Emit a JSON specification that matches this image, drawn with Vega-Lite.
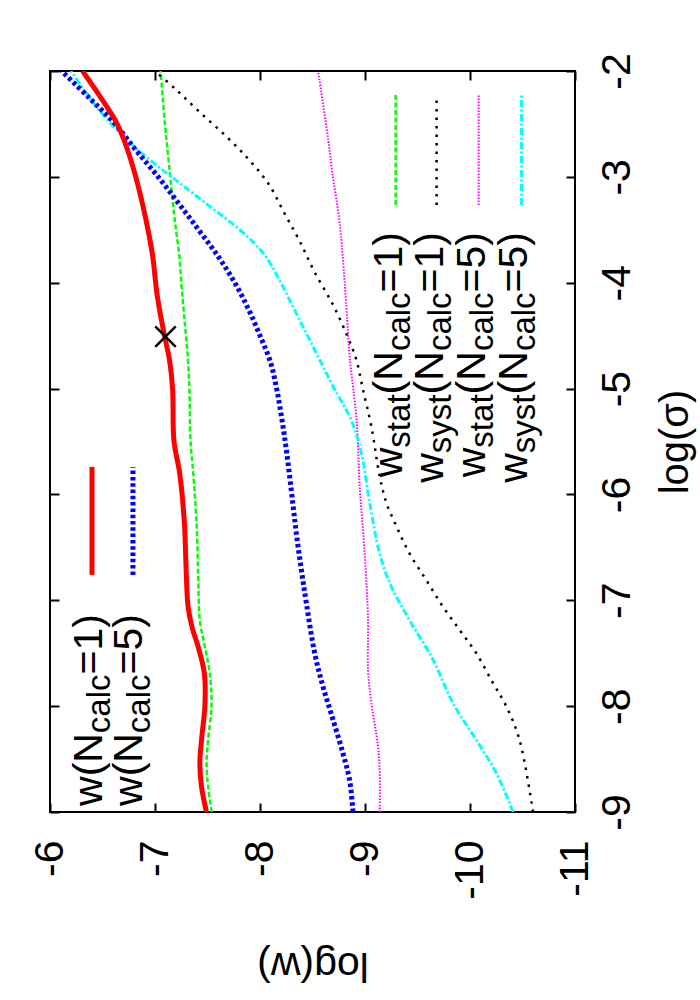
{
  "$schema": "https://vega.github.io/schema/vega-lite/v6.json",
  "width": 525,
  "height": 741,
  "autosize": {"type": "none"},
  "padding": {"left": 50, "top": 71, "right": 125, "bottom": 188},
  "background": "white",
  "config": {
    "view": {"stroke": "black", "strokeWidth": 2},
    "font": "Liberation Sans",
    "axis": {"domain": false, "grid": false, "tickColor": "black", "tickWidth": 2, "labelColor": "black", "titleColor": "black", "labelFont": "Liberation Sans", "titleFont": "Liberation Sans", "titleFontWeight": "normal"}
  },
  "datasets": {
    "curves": [
      {"s":"w1","g":"c","ls":-9.0,"lw":-7.49},{"s":"w1","g":"c","ls":-8.76,"lw":-7.443},{"s":"w1","g":"c","ls":-8.54,"lw":-7.427},{"s":"w1","g":"c","ls":-8.32,"lw":-7.443},{"s":"w1","g":"c","ls":-8.0,"lw":-7.475},{"s":"w1","g":"c","ls":-7.69,"lw":-7.47},{"s":"w1","g":"c","ls":-7.44,"lw":-7.411},{"s":"w1","g":"c","ls":-7.25,"lw":-7.352},{"s":"w1","g":"c","ls":-7.06,"lw":-7.315},{"s":"w1","g":"c","ls":-6.75,"lw":-7.298},{"s":"w1","g":"c","ls":-6.27,"lw":-7.28},{"s":"w1","g":"c","ls":-5.8,"lw":-7.235},{"s":"w1","g":"c","ls":-5.49,"lw":-7.18},{"s":"w1","g":"c","ls":-5.01,"lw":-7.168},{"s":"w1","g":"c","ls":-4.73,"lw":-7.138},{"s":"w1","g":"c","ls":-4.45,"lw":-7.08},{"s":"w1","g":"c","ls":-4.1,"lw":-7.018},{"s":"w1","g":"c","ls":-3.75,"lw":-6.978},{"s":"w1","g":"c","ls":-3.41,"lw":-6.915},{"s":"w1","g":"c","ls":-3.03,"lw":-6.825},{"s":"w1","g":"c","ls":-2.72,"lw":-6.73},{"s":"w1","g":"c","ls":-2.49,"lw":-6.635},{"s":"w1","g":"c","ls":-2.24,"lw":-6.476},{"s":"w1","g":"c","ls":-2.0,"lw":-6.31},
      {"s":"stat1","g":"c","ls":-9.0,"lw":-7.54},{"s":"stat1","g":"c","ls":-8.76,"lw":-7.506},{"s":"stat1","g":"c","ls":-8.54,"lw":-7.491},{"s":"stat1","g":"c","ls":-8.32,"lw":-7.506},{"s":"stat1","g":"c","ls":-8.0,"lw":-7.538},{"s":"stat1","g":"c","ls":-7.69,"lw":-7.522},{"s":"stat1","g":"c","ls":-7.44,"lw":-7.475},{"s":"stat1","g":"c","ls":-7.19,"lw":-7.427},{"s":"stat1","g":"c","ls":-6.75,"lw":-7.411},{"s":"stat1","g":"c","ls":-6.27,"lw":-7.396},{"s":"stat1","g":"c","ls":-5.8,"lw":-7.364},{"s":"stat1","g":"c","ls":-5.49,"lw":-7.338},{"s":"stat1","g":"c","ls":-5.01,"lw":-7.328},{"s":"stat1","g":"c","ls":-4.7,"lw":-7.312},{"s":"stat1","g":"c","ls":-4.38,"lw":-7.284},{"s":"stat1","g":"c","ls":-4.07,"lw":-7.256},{"s":"stat1","g":"c","ls":-3.75,"lw":-7.232},{"s":"stat1","g":"c","ls":-3.44,"lw":-7.192},{"s":"stat1","g":"c","ls":-3.13,"lw":-7.158},{"s":"stat1","g":"c","ls":-2.81,"lw":-7.126},{"s":"stat1","g":"c","ls":-2.49,"lw":-7.094},{"s":"stat1","g":"c","ls":-2.0,"lw":-7.053},
      {"s":"w5","g":"c","ls":-9.0,"lw":-8.885},{"s":"w5","g":"c","ls":-8.7,"lw":-8.854},{"s":"w5","g":"c","ls":-8.45,"lw":-8.791},{"s":"w5","g":"c","ls":-8.13,"lw":-8.696},{"s":"w5","g":"c","ls":-7.82,"lw":-8.601},{"s":"w5","g":"c","ls":-7.5,"lw":-8.521},{"s":"w5","g":"c","ls":-7.03,"lw":-8.442},{"s":"w5","g":"c","ls":-6.72,"lw":-8.395},{"s":"w5","g":"c","ls":-6.4,"lw":-8.35},{"s":"w5","g":"c","ls":-6.08,"lw":-8.312},{"s":"w5","g":"c","ls":-5.61,"lw":-8.255},{"s":"w5","g":"c","ls":-5.3,"lw":-8.21},{"s":"w5","g":"c","ls":-5.01,"lw":-8.16},{"s":"w5","g":"c","ls":-4.75,"lw":-8.1},{"s":"w5","g":"c","ls":-4.5,"lw":-8.0},{"s":"w5","g":"c","ls":-4.25,"lw":-7.89},{"s":"w5","g":"c","ls":-4.0,"lw":-7.76},{"s":"w5","g":"c","ls":-3.75,"lw":-7.6},{"s":"w5","g":"c","ls":-3.5,"lw":-7.415},{"s":"w5","g":"c","ls":-3.25,"lw":-7.225},{"s":"w5","g":"c","ls":-3.0,"lw":-7.03},{"s":"w5","g":"c","ls":-2.75,"lw":-6.82},{"s":"w5","g":"c","ls":-2.5,"lw":-6.62},{"s":"w5","g":"c","ls":-2.25,"lw":-6.37},{"s":"w5","g":"c","ls":-2.0,"lw":-6.11},
      {"s":"syst5","g":"c","ls":-9.0,"lw":-10.41},{"s":"syst5","g":"c","ls":-8.63,"lw":-10.25},{"s":"syst5","g":"c","ls":-8.32,"lw":-10.06},{"s":"syst5","g":"c","ls":-7.97,"lw":-9.837},{"s":"syst5","g":"c","ls":-7.56,"lw":-9.647},{"s":"syst5","g":"c","ls":-7.19,"lw":-9.425},{"s":"syst5","g":"c","ls":-6.87,"lw":-9.251},{"s":"syst5","g":"c","ls":-6.56,"lw":-9.14},{"s":"syst5","g":"c","ls":-6.08,"lw":-9.045},{"s":"syst5","g":"c","ls":-5.61,"lw":-8.966},{"s":"syst5","g":"c","ls":-5.3,"lw":-8.87},{"s":"syst5","g":"c","ls":-4.98,"lw":-8.696},{"s":"syst5","g":"c","ls":-4.73,"lw":-8.569},{"s":"syst5","g":"c","ls":-4.48,"lw":-8.442},{"s":"syst5","g":"c","ls":-4.23,"lw":-8.315},{"s":"syst5","g":"c","ls":-3.98,"lw":-8.188},{"s":"syst5","g":"c","ls":-3.72,"lw":-8.03},{"s":"syst5","g":"c","ls":-3.5,"lw":-7.808},{"s":"syst5","g":"c","ls":-3.28,"lw":-7.522},{"s":"syst5","g":"c","ls":-3.06,"lw":-7.237},{"s":"syst5","g":"c","ls":-2.84,"lw":-6.951},{"s":"syst5","g":"c","ls":-2.62,"lw":-6.698},{"s":"syst5","g":"c","ls":-2.34,"lw":-6.444},{"s":"syst5","g":"c","ls":-2.0,"lw":-6.2},
      {"s":"syst1","g":"c","ls":-9.0,"lw":-10.6},{"s":"syst1","g":"c","ls":-8.32,"lw":-10.472},{"s":"syst1","g":"c","ls":-8.0,"lw":-10.345},{"s":"syst1","g":"c","ls":-7.78,"lw":-10.218},{"s":"syst1","g":"c","ls":-7.5,"lw":-10.06},{"s":"syst1","g":"c","ls":-7.28,"lw":-9.901},{"s":"syst1","g":"c","ls":-7.06,"lw":-9.742},{"s":"syst1","g":"c","ls":-6.81,"lw":-9.584},{"s":"syst1","g":"c","ls":-6.56,"lw":-9.425},{"s":"syst1","g":"c","ls":-6.3,"lw":-9.299},{"s":"syst1","g":"c","ls":-6.08,"lw":-9.204},{"s":"syst1","g":"c","ls":-5.83,"lw":-9.14},{"s":"syst1","g":"c","ls":-5.36,"lw":-9.061},{"s":"syst1","g":"c","ls":-5.01,"lw":-8.981},{"s":"syst1","g":"c","ls":-4.73,"lw":-8.918},{"s":"syst1","g":"c","ls":-4.5,"lw":-8.83},{"s":"syst1","g":"c","ls":-4.21,"lw":-8.696},{"s":"syst1","g":"c","ls":-3.9,"lw":-8.52},{"s":"syst1","g":"c","ls":-3.61,"lw":-8.379},{"s":"syst1","g":"c","ls":-3.35,"lw":-8.236},{"s":"syst1","g":"c","ls":-3.06,"lw":-8.077},{"s":"syst1","g":"c","ls":-2.83,"lw":-7.887},{"s":"syst1","g":"c","ls":-2.62,"lw":-7.681},{"s":"syst1","g":"c","ls":-2.39,"lw":-7.427},{"s":"syst1","g":"c","ls":-2.18,"lw":-7.205},{"s":"syst1","g":"c","ls":-2.0,"lw":-7.0},
      {"s":"stat5","g":"c","ls":-9.0,"lw":-9.14},{"s":"stat5","g":"c","ls":-8.63,"lw":-9.14},{"s":"stat5","g":"c","ls":-8.38,"lw":-9.124},{"s":"stat5","g":"c","ls":-7.97,"lw":-9.061},{"s":"stat5","g":"c","ls":-7.66,"lw":-9.029},{"s":"stat5","g":"c","ls":-7.19,"lw":-9.029},{"s":"stat5","g":"c","ls":-6.56,"lw":-8.997},{"s":"stat5","g":"c","ls":-5.93,"lw":-8.95},{"s":"stat5","g":"c","ls":-5.3,"lw":-8.92},{"s":"stat5","g":"c","ls":-4.7,"lw":-8.854},{"s":"stat5","g":"c","ls":-4.23,"lw":-8.823},{"s":"stat5","g":"c","ls":-3.44,"lw":-8.759},{"s":"stat5","g":"c","ls":-2.97,"lw":-8.69},{"s":"stat5","g":"c","ls":-2.65,"lw":-8.65},{"s":"stat5","g":"c","ls":-2.0,"lw":-8.553},
      {"s":"w1","g":"k","ls":-6.76,"lw":-6.40},{"s":"w1","g":"k","ls":-5.74,"lw":-6.40},
      {"s":"w5","g":"k","ls":-6.76,"lw":-6.79},{"s":"w5","g":"k","ls":-5.74,"lw":-6.79},
      {"s":"stat1","g":"k","ls":-3.266,"lw":-9.292},{"s":"stat1","g":"k","ls":-2.227,"lw":-9.292},
      {"s":"syst1","g":"k","ls":-3.266,"lw":-9.682},{"s":"syst1","g":"k","ls":-2.227,"lw":-9.682},
      {"s":"stat5","g":"k","ls":-3.266,"lw":-10.082},{"s":"stat5","g":"k","ls":-2.227,"lw":-10.082},
      {"s":"syst5","g":"k","ls":-3.266,"lw":-10.491},{"s":"syst5","g":"k","ls":-2.227,"lw":-10.491}
    ],
    "labels": [
      {"t":"w(N","k":"m","lw":-6.495,"ls":-8.943},{"t":"calc","k":"s","lw":-6.571,"ls":-8.255},{"t":"=1)","k":"m","lw":-6.495,"ls":-7.700},
      {"t":"w(N","k":"m","lw":-6.875,"ls":-8.943},{"t":"calc","k":"s","lw":-6.952,"ls":-8.255},{"t":"=5)","k":"m","lw":-6.875,"ls":-7.700},
      {"t":"w","k":"m","lw":-9.349,"ls":-5.837},{"t":"stat","k":"s","lw":-9.425,"ls":-5.558},{"t":"(N","k":"m","lw":-9.349,"ls":-5.055},{"t":"calc","k":"s","lw":-9.425,"ls":-4.646},{"t":"=1)","k":"m","lw":-9.349,"ls":-4.092},
      {"t":"w","k":"m","lw":-9.739,"ls":-5.889},{"t":"syst","k":"s","lw":-9.815,"ls":-5.610},{"t":"(N","k":"m","lw":-9.739,"ls":-5.055},{"t":"calc","k":"s","lw":-9.815,"ls":-4.646},{"t":"=1)","k":"m","lw":-9.739,"ls":-4.092},
      {"t":"w","k":"m","lw":-10.139,"ls":-5.837},{"t":"stat","k":"s","lw":-10.215,"ls":-5.558},{"t":"(N","k":"m","lw":-10.139,"ls":-5.055},{"t":"calc","k":"s","lw":-10.215,"ls":-4.646},{"t":"=5)","k":"m","lw":-10.139,"ls":-4.092},
      {"t":"w","k":"m","lw":-10.539,"ls":-5.889},{"t":"syst","k":"s","lw":-10.615,"ls":-5.610},{"t":"(N","k":"m","lw":-10.539,"ls":-5.055},{"t":"calc","k":"s","lw":-10.615,"ls":-4.646},{"t":"=5)","k":"m","lw":-10.539,"ls":-4.092}
    ],
    "marker": [{"lw": -7.10, "ls": -4.51}]
  },
  "encoding": {
    "x": {"field": "lw", "type": "quantitative", "scale": {"domain": [-11, -6], "reverse": true, "nice": false, "zero": false}, "axis": null},
    "y": {"field": "ls", "type": "quantitative", "scale": {"domain": [-9, -2], "nice": false, "zero": false}, "axis": null}
  },
  "layer": [
    {
      "data": {"name": "curves"},
      "transform": [{"filter": "datum.s === 'stat1'"}],
      "mark": {"type": "line", "stroke": "#00ff00", "strokeWidth": 2.5, "strokeDash": [5, 2.5], "interpolate": "catmull-rom", "clip": true},
      "encoding": {"order": {"field": "ls", "type": "quantitative"}, "detail": {"field": "g"}}
    },
    {
      "data": {"name": "curves"},
      "transform": [{"filter": "datum.s === 'syst1'"}],
      "mark": {"type": "line", "stroke": "black", "strokeWidth": 2.5, "strokeDash": [2.5, 6], "interpolate": "catmull-rom", "clip": true},
      "encoding": {"order": {"field": "ls", "type": "quantitative"}, "detail": {"field": "g"}}
    },
    {
      "data": {"name": "curves"},
      "transform": [{"filter": "datum.s === 'stat5'"}],
      "mark": {"type": "line", "stroke": "#ff00ff", "strokeWidth": 2, "strokeDash": [1.5, 1.5], "interpolate": "catmull-rom", "clip": true},
      "encoding": {"order": {"field": "ls", "type": "quantitative"}, "detail": {"field": "g"}}
    },
    {
      "data": {"name": "curves"},
      "transform": [{"filter": "datum.s === 'syst5'"}],
      "mark": {"type": "line", "stroke": "#00ffff", "strokeWidth": 3, "strokeDash": [7, 2.5, 2, 2.5], "interpolate": "catmull-rom", "clip": true},
      "encoding": {"order": {"field": "ls", "type": "quantitative"}, "detail": {"field": "g"}}
    },
    {
      "data": {"name": "curves"},
      "transform": [{"filter": "datum.s === 'w5'"}],
      "mark": {"type": "line", "stroke": "#0000ff", "strokeWidth": 5, "strokeDash": [3.5, 2.8], "interpolate": "catmull-rom", "clip": true},
      "encoding": {"order": {"field": "ls", "type": "quantitative"}, "detail": {"field": "g"}}
    },
    {
      "data": {"name": "curves"},
      "transform": [{"filter": "datum.s === 'w1'"}],
      "mark": {"type": "line", "stroke": "#ff0000", "strokeWidth": 5, "interpolate": "catmull-rom", "clip": true},
      "encoding": {
        "x": {"field": "lw", "type": "quantitative", "scale": {"domain": [-11, -6], "reverse": true, "nice": false, "zero": false},
          "axis": {"orient": "bottom", "values": [-6, -7, -8, -9, -10, -11], "labelExpr": "'' + datum.value", "labelAngle": 270, "labelAlign": "right", "labelBaseline": "middle", "labelFontSize": 41, "tickSize": -9, "labelPadding": 37, "title": "log(w)", "titleAngle": 180, "titleBaseline": "bottom", "titleFontSize": 41, "titlePadding": 44}},
        "y": {"field": "ls", "type": "quantitative", "scale": {"domain": [-9, -2], "nice": false, "zero": false},
          "axis": {"orient": "right", "values": [-9, -8, -7, -6, -5, -4, -3, -2], "labelExpr": "'' + datum.value", "labelAngle": 270, "labelAlign": "center", "labelBaseline": "top", "labelFontSize": 41, "tickSize": -9, "labelPadding": 31, "title": "log(σ)", "titleAngle": 270, "titleBaseline": "top", "titleFontSize": 40, "titlePadding": 18}},
        "order": {"field": "ls", "type": "quantitative"}, "detail": {"field": "g"}
      }
    },
    {
      "data": {"name": "marker"},
      "mark": {"type": "point", "shape": "M-1,-1L1,1M-1,1L1,-1", "size": 420, "filled": false, "stroke": "black", "strokeWidth": 2.5, "opacity": 1},
      "encoding": {
        "x": {"field": "lw", "type": "quantitative", "scale": {"domain": [-11, -6], "reverse": true, "nice": false, "zero": false},
          "axis": {"orient": "top", "values": [-6, -7, -8, -9, -10, -11], "labels": false, "tickSize": -9, "title": null}},
        "y": {"field": "ls", "type": "quantitative", "scale": {"domain": [-9, -2], "nice": false, "zero": false},
          "axis": {"orient": "left", "values": [-9, -8, -7, -6, -5, -4, -3, -2], "labels": false, "tickSize": -9, "title": null}}
      }
    },
    {
      "data": {"name": "labels"},
      "transform": [{"filter": "datum.k === 'm'"}],
      "mark": {"type": "text", "angle": 270, "align": "left", "baseline": "alphabetic", "fontSize": 41, "font": "Liberation Sans", "color": "black"},
      "encoding": {"text": {"field": "t"}}
    },
    {
      "data": {"name": "labels"},
      "transform": [{"filter": "datum.k === 's'"}],
      "mark": {"type": "text", "angle": 270, "align": "left", "baseline": "alphabetic", "fontSize": 33, "font": "Liberation Sans", "color": "black"},
      "encoding": {"text": {"field": "t"}}
    }
  ],
  "resolve": {"axis": {"x": "independent", "y": "independent"}}
}
